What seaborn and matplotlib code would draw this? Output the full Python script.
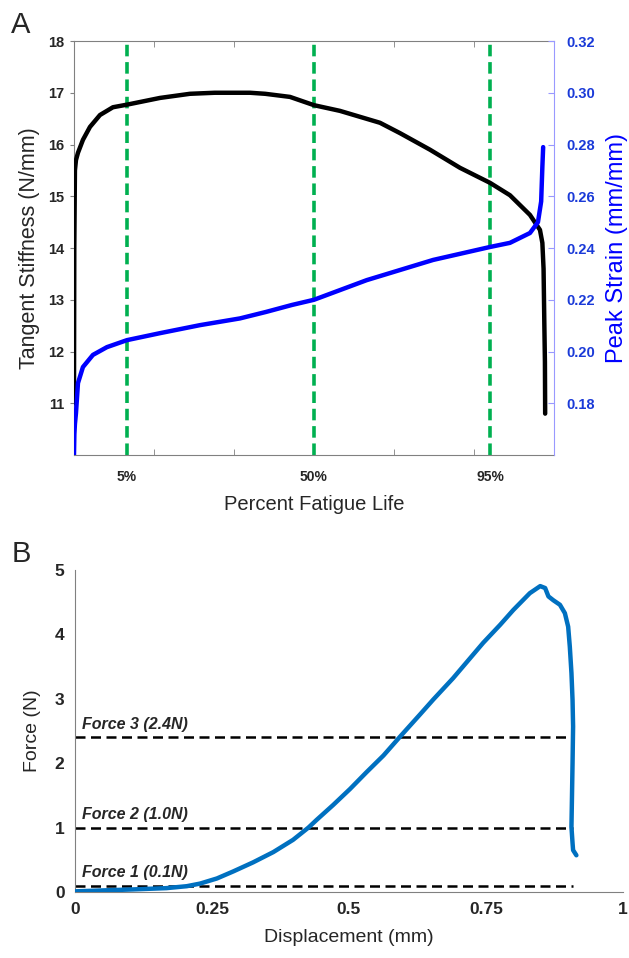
import numpy as np
import pandas as pd
import matplotlib
matplotlib.use("Agg")
import matplotlib.pyplot as plt
import seaborn as sns

# Panel A: fatigue test, x in cycles (arbitrary, 1000 per minor tick)
stiff_cycles = [0, 4, 12, 25, 50, 112, 200, 325, 487, 662, 1075, 1450, 1760, 2200,
                2390, 2700, 3000, 3325, 3825, 4075, 4450, 4825, 5200, 5450, 5700,
                5825, 5855, 5870, 5880, 5887, 5890]
stiffness = [11.0, 14.0, 15.5, 15.7, 15.84, 16.09, 16.34, 16.57, 16.72, 16.77,
             16.9, 16.98, 17.0, 17.0, 16.98, 16.92, 16.76, 16.65, 16.42, 16.22,
             15.9, 15.55, 15.26, 15.02, 14.64, 14.35, 14.1, 13.6, 12.5, 11.8, 10.8]

strain_cycles = [0, 5, 12, 25, 50, 112, 237, 412, 662, 1075, 1575, 2075, 2400,
                 2725, 3000, 3660, 4490, 5200, 5450, 5700, 5800, 5840, 5855, 5865]
strain = [0.160, 0.168, 0.172, 0.1762, 0.1878, 0.194, 0.1987, 0.2017, 0.2044,
          0.2071, 0.2102, 0.2128, 0.2153, 0.218, 0.220, 0.2276, 0.2354, 0.2404,
          0.242, 0.2458, 0.250, 0.258, 0.2713, 0.279]

life_marks = [662, 3000, 5200]
life_labels = ["5%", "50%", "95%"]

# Panel B: force-displacement
disp = [0, 0.106, 0.167, 0.204, 0.228, 0.259, 0.289, 0.325, 0.362, 0.398, 0.426,
        0.441, 0.471, 0.502, 0.532, 0.563, 0.593, 0.630, 0.654, 0.690, 0.715,
        0.745, 0.776, 0.800, 0.830, 0.849, 0.858, 0.864, 0.873, 0.885, 0.894,
        0.900, 0.903, 0.906, 0.908, 0.909, 0.908, 0.907, 0.906, 0.908, 0.909, 0.915]
force = [0.01, 0.04, 0.06, 0.09, 0.13, 0.21, 0.32, 0.46, 0.62, 0.81, 1.0, 1.12,
         1.35, 1.60, 1.86, 2.12, 2.41, 2.76, 2.99, 3.32, 3.57, 3.87, 4.15, 4.38,
         4.64, 4.75, 4.72, 4.59, 4.53, 4.46, 4.33, 4.12, 3.81, 3.40, 2.98, 2.57,
         2.0, 1.5, 1.01, 0.76, 0.65, 0.57]

force_levels = [0.1, 1.0, 2.4]
force_names = ["Force 1 (0.1N)", "Force 2 (1.0N)", "Force 3 (2.4N)"]
force_line_end = 0.909

sns.set_style("white")
plt.rcParams['font.family'] = ['Liberation Sans', 'DejaVu Sans']

fig = plt.figure(figsize=(6.29, 9.58), dpi=100)

# ---------------- Panel A ----------------
ax = fig.add_axes([0.1176, 0.525, 0.7631, 0.4322])
ax2 = ax.twinx()

dfa = pd.DataFrame({"cycles": stiff_cycles, "stiffness": stiffness})
dfb = pd.DataFrame({"cycles": strain_cycles, "strain": strain})

for m in life_marks:
    ax.axvline(m, color="#00b050", lw=2.6, ls=(0, (3.2, 1.6)), zorder=1)

sns.lineplot(data=dfa, x="cycles", y="stiffness", ax=ax, color="black", lw=3.2,
             sort=False, estimator=None, zorder=3)
sns.lineplot(data=dfb, x="cycles", y="strain", ax=ax2, color="#0000ff", lw=3.2,
             sort=False, estimator=None, zorder=3)

ax.set_xlim(0, 6000)
ax.set_ylim(10, 18)
ax2.set_ylim(0.16, 0.32)

ax.set_yticks(range(11, 19))
ax.set_yticklabels([str(v) for v in range(11, 19)], fontweight="bold", fontsize=10.5)
ax.set_xticks(life_marks)
ax.set_xticklabels(life_labels, fontweight="bold", fontsize=10)
ax.tick_params(axis="x", length=0, pad=11)
ax.set_xticks([1000, 2000, 3000, 4000, 5000], minor=True)
ax.tick_params(axis="x", which="minor", direction="in", length=4, color="#808080",
               top=True, bottom=True)
ax.tick_params(axis="y", direction="out", length=3, color="#808080", pad=4)

s_ticks = [0.18, 0.20, 0.22, 0.24, 0.26, 0.28, 0.30, 0.32]
ax2.set_yticks(s_ticks)
ax2.set_yticklabels([f"{v:.2f}" for v in s_ticks], fontweight="bold",
                    fontsize=10.5, color="#1a3ad8")
ax2.tick_params(axis="y", direction="in", length=4, color="#9999ff", pad=9)

for sp in ["left", "top", "bottom"]:
    ax.spines[sp].set_color("#808080")
    ax2.spines[sp].set_visible(False)
ax.spines["right"].set_visible(False)
ax2.spines["right"].set_color("#9999ff")

ax.set_xlabel("Percent Fatigue Life", fontsize=14.5, labelpad=8)
ax.set_ylabel("Tangent Stiffness (N/mm)", fontsize=15.5, labelpad=6)
ax2.set_ylabel("Peak Strain (mm/mm)", fontsize=17, color="#0000ff", labelpad=8)

fig.text(0.018, 0.9656, "A", fontsize=21, va="baseline")

# ---------------- Panel B ----------------
bx = fig.add_axes([0.1192, 0.0689, 0.8712, 0.3361])
dfc = pd.DataFrame({"disp": disp, "force": force})

bx.hlines(force_levels, 0, force_line_end, colors="black", lw=1.8,
          linestyles=(0, (4, 2.2)), zorder=2)
for lvl, name in zip(force_levels, force_names):
    bx.text(0.012, lvl + 0.08, name, fontsize=11.5, fontweight="bold",
            fontstyle="italic", va="bottom", ha="left")

sns.lineplot(data=dfc, x="disp", y="force", ax=bx, color="#0070c0", lw=3.2,
             sort=False, estimator=None, zorder=3)

bx.set_xlim(0, 1)
bx.set_ylim(0, 5)
bx.set_xticks([0, 0.25, 0.5, 0.75, 1])
bx.set_xticklabels(["0", "0.25", "0.5", "0.75", "1"], fontweight="bold", fontsize=12.5)
bx.set_yticks(range(0, 6))
bx.set_yticklabels([str(v) for v in range(0, 6)], fontweight="bold", fontsize=12.5)
bx.tick_params(direction="out", length=4, color="#808080")
for sp in ["top", "right"]:
    bx.spines[sp].set_visible(False)
for sp in ["left", "bottom"]:
    bx.spines[sp].set_color("#808080")
bx.set_xlabel("Displacement (mm)", fontsize=14, labelpad=8)
bx.set_ylabel("Force (N)", fontsize=14, labelpad=10)

fig.text(0.018, 0.4134, "B", fontsize=21, va="baseline")

fig.savefig("out.png", dpi=100)
